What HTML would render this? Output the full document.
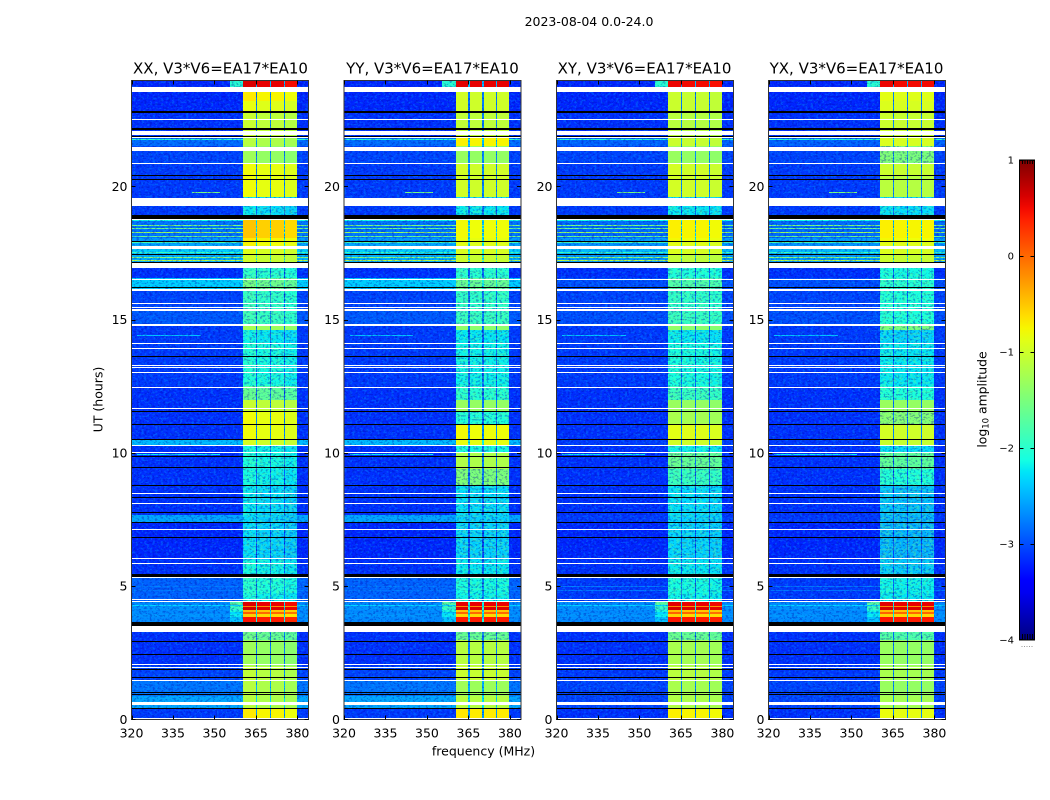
<!DOCTYPE html>
<html lang="en">
<head>
<meta charset="utf-8">
<title>2023-08-04 amplitude waterfall V3*V6=EA17*EA10</title>
<style>
html,body{margin:0;padding:0;background:#fff;width:1050px;height:800px;overflow:hidden}
svg{display:block}
text{font-family:"DejaVu Sans","Liberation Sans",sans-serif;fill:#000}
</style>
</head>
<body>
<svg id="fig" width="1050" height="800" viewBox="0 0 1050 800" xmlns="http://www.w3.org/2000/svg">
  <defs>
    <filter id="speckle-light" x="0" y="0" width="100%" height="100%" color-interpolation-filters="sRGB">
      <feTurbulence type="fractalNoise" baseFrequency="0.36 0.5" numOctaves="2" seed="4"/>
      <feColorMatrix type="matrix" values="0 0 0 0 0  0 0 0 0 0.68  0 0 0 0 1  8 0 0 0 -4.2"/>
    </filter>
    <filter id="speckle-dark" x="0" y="0" width="100%" height="100%" color-interpolation-filters="sRGB">
      <feTurbulence type="fractalNoise" baseFrequency="0.38 0.52" numOctaves="2" seed="11"/>
      <feColorMatrix type="matrix" values="0 0 0 0 0  0 0 0 0 0  0 0 0 0 0.65  0 8 0 0 -4.2"/>
    </filter>
    <filter id="speckle-green" x="0" y="0" width="100%" height="100%" color-interpolation-filters="sRGB">
      <feTurbulence type="fractalNoise" baseFrequency="0.3 0.45" numOctaves="2" seed="23"/>
      <feColorMatrix type="matrix" values="0 0 0 0 0.45  0 0 0 0 1  0 0 0 0 0.5  8 0 0 0 -4"/>
    </filter>
    <linearGradient id="jet-gradient" x1="0" y1="1" x2="0" y2="0"></linearGradient>
  </defs>
  <text x="589" y="26" font-size="12.5" text-anchor="middle">2023-08-04 0.0-24.0</text>
  <text x="220.5" y="73.5" font-size="15" text-anchor="middle">XX, V3*V6=EA17*EA10</text>
  <text x="432.5" y="73.5" font-size="15" text-anchor="middle">YY, V3*V6=EA17*EA10</text>
  <text x="644.5" y="73.5" font-size="15" text-anchor="middle">XY, V3*V6=EA17*EA10</text>
  <text x="856.5" y="73.5" font-size="15" text-anchor="middle">YX, V3*V6=EA17*EA10</text>
  <text x="0" y="0" font-size="12.5" text-anchor="middle" transform="translate(102.5 399.5) rotate(-90)">UT (hours)</text>
  <text x="483.5" y="755.5" font-size="12.5" text-anchor="middle">frequency (MHz)</text>
  <text x="0" y="0" font-size="12.4" text-anchor="middle" transform="translate(986.5 399.5) rotate(-90)">log<tspan font-size="8.5" dy="2">10</tspan><tspan dy="-2"> amplitude</tspan></text>
  <g id="panels"></g>
  <g id="colorbar"></g>
</svg>
<script>
// Time rows (hours): rowEdges[i]..rowEdges[i+1]
const rowEdges = [0,.43,.9,1.5,2,3,3.3,3.65,3.85,3.95,4.05,4.12,4.22,4.27,4.4,4.75,5.3,6,7.36,7.66,8.8,9.4,10,10.3,10.5,11.05,11.55,12,12.5,14.1,14.6,14.8,15.4,16.1,16.55,16.95,17.15,17.47,17.66,17.96,18.07,18.78,19.27,19.6,20.4,20.85,21.5,21.9,22.8,23.2,23.73,24];
// log10 amplitude outside the passband, per row, parallel hands (XX, YY)
const backgroundParallel = [-3.1,-2.55,-2.8,-3.05,-3.15,-3.15,-3.15,-2.7,-2.65,-2.7,-2.7,-2.65,-2.65,-2.7,-2.9,-2.9,-3.15,-3.2,-2.55,-3.15,-3.15,-3.15,-3.15,-2.45,-3.15,-3.15,-3.15,-3.15,-3.1,-3.1,-3.1,-2.95,-3.05,-2.35,-3.15,-3.15,-2.5,-2.35,-2.55,-2.6,-2.8,-3.1,-3.1,-3.1,-3.1,-3.05,-2.85,-3.15,-3.2,-3.2,-3.2];
// log10 amplitude outside the passband, per row, cross hands (XY, YX)
const backgroundCross = [-3.15,-3.05,-3.05,-3.1,-3.15,-3.15,-3.15,-2.7,-2.65,-2.7,-2.7,-2.65,-2.65,-2.7,-3.1,-3.1,-3.15,-3.2,-3.1,-3.15,-3.15,-3.15,-3.15,-3.1,-3.15,-3.15,-3.15,-3.15,-3.1,-3.1,-3.1,-3,-3.05,-3,-3.15,-3.15,-2.6,-2.45,-2.65,-2.6,-2.85,-3.1,-3.1,-3.1,-3.1,-3.05,-2.9,-3.15,-3.2,-3.2,-3.2];
const backgroundByPanel = [backgroundParallel, backgroundParallel, backgroundCross, backgroundCross];
// log10 amplitude of the shoulder where it stands out (row index, level)
const shoulderRows = [7,8,9,10,11,12,13,50];
const shoulderRowLevels = [-2.4,-2.2,-2.3,-2.1,-1.9,-1.9,-1.7,-2];
// log10 amplitude inside the sub-bands, per row and polarisation
const subbandXX = [-.75,-1.2,-1.2,-1.15,-1.35,-1.65,-1.65,.4,-.6,0,-.5,.6,-.2,.55,-2.2,-2.1,-2.2,-2.35,-2.35,-2.3,-2.2,-2.15,-2.2,-1,-.85,-.85,-1.1,-1.7,-2.15,-2.25,-1.3,-1.95,-2,-1.6,-2.05,-2.05,-1.05,-.95,-.8,-.75,-.55,-2.3,-2.3,-.85,-.85,-1.35,-1.2,-1.1,-.9,-.75,.55];
const subbandYY = [-.7,-1.15,-1.3,-1.05,-1.15,-1.65,-1.65,.4,-.6,0,-.5,.6,-.2,.55,-2.2,-2.15,-2.25,-2.35,-2.35,-2.3,-1.5,-1.2,-2.15,-.85,-.8,-2.1,-1.35,-2.05,-2.2,-2.25,-1.4,-1.95,-2,-1.65,-2.05,-2.05,-1.05,-.95,-.9,-.85,-.8,-2.25,-2.3,-1,-1,-1.35,-.75,-1.1,-1,-1,.55];
const subbandXY = [-.75,-1.2,-1.25,-1.15,-1.25,-1.65,-1.65,.4,-.6,0,-.5,.6,-.2,.55,-2.2,-2.15,-2.25,-2.35,-2.35,-2.3,-1.95,-1.65,-2.2,-1,-.9,-1.25,-1.35,-1.95,-2.15,-2.25,-1.4,-1.95,-2,-1.8,-2.1,-2.1,-1.1,-.95,-.9,-.8,-.75,-2.25,-2.3,-1,-1,-1.35,-1.05,-1.15,-1.05,-1.05,.5];
const subbandYX = [-.85,-1.25,-1.35,-1.25,-1.35,-1.8,-1.8,.4,-.6,0,-.5,.6,-.2,.55,-2.25,-2.2,-2.4,-2.5,-2.5,-2.45,-2.1,-1.7,-2.3,-1.05,-1,-1.45,-1.35,-2.1,-2.25,-2.35,-1.5,-2.1,-2.1,-2.05,-2.15,-2.15,-1.05,-.95,-.9,-.8,-.75,-2.3,-2.3,-1.15,-1.05,-1.5,-.95,-1.05,-.95,-.9,.5];
const subbandByPanel = [subbandXX, subbandYY, subbandXY, subbandYX];
// Sub-band trim per polarisation
const subbandTrim = [[.06,0,0,-.06],[.02,0,0,0],[.03,0,0,-.03],[.03,0,0,0]];
// Sub-band edges (MHz)
const subbandEdges = [[360.4,365],[365.5,370],[370.5,375],[375.4,379.8]];
const passband = [360.4,379.8];
const shoulderRange = [355.5,360.4];
// Narrow-band RFI lines across the band: hour and level
const rfiLineHours = [4.3,5.0,4.85,21.77,17.25,17.33,17.55,17.92,18.13,18.27,18.43,18.56,18.73];
const rfiLineLevels = [-2.3,-2.8,-2.8,-2,-1.1,-1.4,-1.9,-1.8,-1.6,-1.3,-1.6,-1.5,-2.1];
// Short RFI bursts: hour, start MHz, end MHz, level
const burstHours = [19.8,14.44,9.95];
const burstStarts = [342,322,322];
const burstEnds = [352,345,352];
const burstLevels = [-1.5,-2.4,-2.2];
// Flagged time ranges (hours)
const whiteFlags = [[.02,.05],[.54,.65],[1.44,1.48],[1.93,1.97],[2.04,2.08],[3.28,3.5],[4.4,4.44],[4.49,4.53],[5.3,5.34],[5.83,5.86],[6.01,6.05],[7.11,7.14],[8.07,8.11],[8.48,8.51],[9.99,10.03],[10.25,10.28],[11.63,11.67],[12.45,12.49],[13.02,13.05],[13.2,13.24],[13.28,13.31],[13.88,13.92],[14.1,14.14],[14.77,14.83],[15.34,15.38],[15.45,15.49],[15.6,15.64],[16.09,16.13],[16.5,16.54],[16.95,17.12],[17.66,17.77],[18.75,18.78],[19.27,19.57],[20.84,20.86],[21.33,21.48],[21.82,21.88],[21.93,22.08],[22.49,22.53],[23.54,23.73]];
const blackFlags = [[.39,.43],[.92,.96],[.99,1.03],[1.55,1.59],[1.85,1.89],[2.42,2.46],[2.9,2.94],[3.52,3.65],[5.34,5.45],[6.8,6.83],[7.36,7.4],[7.74,7.78],[8.3,8.34],[8.75,8.79],[9.46,9.49],[9.83,9.87],[10.47,10.51],[11.03,11.09],[11.52,11.56],[13.58,13.62],[16.2,16.24],[17.12,17.15],[17.43,17.47],[17.93,17.96],[18.78,18.93],[20.24,20.28],[20.37,20.41],[21.86,21.9],[22.13,22.17],[22.76,22.83]];
// Tick labels
const freqTicks = [320,335,350,365,380];
const hourTicks = [0,5,10,15,20];
const colorbarTicks = [-4,-3,-2,-1,0,1];
const colorbarMinorTicks = [1,2,3,4,5];
const polarisations = ['xx','yy','xy','yx'];

const NS = 'http://www.w3.org/2000/svg';
const FREQ_MIN = 320, FREQ_MAX = 384, HOUR_MIN = 0, HOUR_MAX = 24;
const PANEL_W = 177, PANEL_TOP = 80.5, PANEL_BOTTOM = 719.5;
const panelLeft = [131.5,344,556.5,768.5];
const CB_LEFT = 1019.5, CB_RIGHT = 1034.5, CB_TOP = 160, CB_BOTTOM = 640;
const QUIET_LEVEL = -1.4;

function make(tag, attrs, parent){
  const e = document.createElementNS(NS, tag);
  for (const k in attrs) e.setAttribute(k, attrs[k]);
  parent.appendChild(e);
  return e;
}
function freqToX(p, f){ return panelLeft[p] + (f - FREQ_MIN) / (FREQ_MAX - FREQ_MIN) * PANEL_W; }
function hourToY(h){ return PANEL_BOTTOM - (h - HOUR_MIN) / (HOUR_MAX - HOUR_MIN) * (PANEL_BOTTOM - PANEL_TOP) * 1.0013; }
function levelToCb(v){ return CB_BOTTOM - (v + 4) / 5 * (CB_BOTTOM - CB_TOP); }
function clamp(v){ return Math.max(0, Math.min(1, v)); }
function jet(t){
  t = clamp(t);
  const r = t < .35 ? 0 : t < .66 ? (t - .35) / .31 : t < .89 ? 1 : 1 - (t - .89) / .11 * .5;
  const g = t < .125 ? 0 : t < .375 ? (t - .125) / .25 : t < .64 ? 1 : t < .91 ? 1 - (t - .64) / .27 : 0;
  const b = t < .11 ? .5 + t / .11 * .5 : t < .34 ? 1 : t < .65 ? 1 - (t - .34) / .31 : 0;
  return 'rgb(' + Math.round(r * 255) + ',' + Math.round(g * 255) + ',' + Math.round(b * 255) + ')';
}
function levelColor(v){ return jet((v + 4) / 5); }

const panelsRoot = document.getElementById('panels');

polarisations.forEach(function(pol, p){
  const g = make('g', {}, panelsRoot);
  
  
  const clip = make('clipPath', {id: 'clip-' + pol}, g);
  make('rect', {x: panelLeft[p], y: PANEL_TOP, width: PANEL_W, height: PANEL_BOTTOM - PANEL_TOP}, clip);
  const quietClip = make('clipPath', {id: 'quiet-' + pol}, g);
  const heat = make('g', {'clip-path': 'url(#clip-' + pol + ')'}, g);
  
  
  const subLevels = subbandByPanel[p];
  const bgLevels = backgroundByPanel[p];
  const passX = Math.round(freqToX(p, passband[0]));
  const passW = Math.round(freqToX(p, passband[1])) - passX;
  // background, shoulder and inter-sub-band gaps
  for (let i = 0; i < rowEdges.length - 1; i++){
    const y1 = Math.round(hourToY(rowEdges[i + 1])), y2 = Math.round(hourToY(rowEdges[i]));
    const h = y2 - y1;
    const bg = bgLevels[i];
    const bgRect = make('rect', {x: panelLeft[p], y: y1, width: PANEL_W, height: h, fill: levelColor(bg)}, heat);
    
    
    const si = shoulderRows.indexOf(i);
    if (si >= 0){
      const sx = Math.round(freqToX(p, shoulderRange[0]));
      const shRect = make('rect', {x: sx, y: y1, width: Math.round(freqToX(p, shoulderRange[1])) - sx, height: h, fill: levelColor(shoulderRowLevels[si])}, heat);
      
      
    }
    const gapRect = make('rect', {x: passX, y: y1, width: passW, height: h, fill: levelColor(bg + .2 * (subLevels[i] - bg))}, heat);
    
    
    if (subLevels[i] < QUIET_LEVEL){
      make('rect', {x: passX, y: y1, width: passW, height: h}, quietClip);
    }
  }
  rfiLineHours.forEach(function(hr, i){
    const line = make('rect', {x: panelLeft[p], y: Math.round(hourToY(hr)), width: PANEL_W, height: 1, fill: levelColor(rfiLineLevels[i])}, heat);
    
    
  });
  burstHours.forEach(function(hr, i){
    const x1 = Math.round(freqToX(p, burstStarts[i]));
    const burst = make('rect', {x: x1, y: Math.round(hourToY(hr)), width: Math.round(freqToX(p, burstEnds[i])) - x1, height: 1, fill: levelColor(burstLevels[i])}, heat);
    
    
  });
  const noiseA = make('rect', {x: panelLeft[p], y: PANEL_TOP, width: PANEL_W, height: PANEL_BOTTOM - PANEL_TOP, filter: 'url(#speckle-light)', opacity: .3}, heat);
  
  
  const noiseB = make('rect', {x: panelLeft[p], y: PANEL_TOP, width: PANEL_W, height: PANEL_BOTTOM - PANEL_TOP, filter: 'url(#speckle-dark)', opacity: .3}, heat);
  
  
  // sub-bands drawn above the speckle; bright rows stay smooth
  for (let i = 0; i < rowEdges.length - 1; i++){
    const y1 = Math.round(hourToY(rowEdges[i + 1])), y2 = Math.round(hourToY(rowEdges[i]));
    const h = y2 - y1;
    subbandEdges.forEach(function(edge, s){
      const x1 = Math.round(freqToX(p, edge[0])), x2 = Math.round(freqToX(p, edge[1]));
      const cell = make('rect', {x: x1, y: y1, width: x2 - x1, height: h, fill: levelColor(subLevels[i] + subbandTrim[p][s])}, heat);
      
      
    });
  }
  const quietGroup = make('g', {'clip-path': 'url(#quiet-' + pol + ')'}, heat);
  
  
  const noiseC = make('rect', {x: passX, y: PANEL_TOP, width: passW, height: PANEL_BOTTOM - PANEL_TOP, filter: 'url(#speckle-dark)', opacity: .35}, quietGroup);
  
  
  const noiseD = make('rect', {x: passX, y: PANEL_TOP, width: passW, height: PANEL_BOTTOM - PANEL_TOP, filter: 'url(#speckle-green)', opacity: .3}, quietGroup);
  
  
  whiteFlags.forEach(function(f){
    const yT = Math.round(hourToY(f[1]));
    const r = make('rect', {x: panelLeft[p], y: yT, width: PANEL_W, height: Math.max(1, Math.round(hourToY(f[0])) - yT), fill: '#fff'}, heat);
    
    
  });
  blackFlags.forEach(function(f){
    const yT = Math.round(hourToY(f[1]));
    const r = make('rect', {x: panelLeft[p], y: yT, width: PANEL_W, height: Math.max(1, Math.round(hourToY(f[0])) - yT), fill: '#000'}, heat);
    
    
  });
  const frame = make('rect', {x: panelLeft[p], y: PANEL_TOP, width: PANEL_W, height: PANEL_BOTTOM - PANEL_TOP, fill: 'none', stroke: '#333', 'stroke-width': 1}, g);
  
  
  freqTicks.forEach(function(f){
    const x = Math.round(freqToX(p, f)) + .5;
    const t1 = make('line', {x1: x, x2: x, y1: PANEL_BOTTOM, y2: PANEL_BOTTOM - 4, stroke: '#000'}, g);
    
    
    const t2 = make('line', {x1: x, x2: x, y1: PANEL_TOP, y2: PANEL_TOP + 4, stroke: '#000'}, g);
    
    
    const lab = make('text', {x: freqToX(p, f), y: 737.5, 'font-size': 12.5, 'text-anchor': 'middle'}, g);
    lab.textContent = String(f);
    
    
  });
  hourTicks.forEach(function(v){
    const y = Math.round(hourToY(v)) + .5 - (v === 0 ? 1 : 0);
    const t1 = make('line', {x1: panelLeft[p], x2: panelLeft[p] + 4, y1: y, y2: y, stroke: '#000'}, g);
    
    
    const t2 = make('line', {x1: panelLeft[p] + PANEL_W, x2: panelLeft[p] + PANEL_W - 4, y1: y, y2: y, stroke: '#000'}, g);
    
    
    const lab = make('text', {x: panelLeft[p] - 4, y: hourToY(v) + 4.5, 'font-size': 12.5, 'text-anchor': 'end'}, g);
    lab.textContent = String(v);
    
    
  });
});

// Colorbar
const grad = document.getElementById('jet-gradient');
for (let i = 0; i <= 40; i++){
  make('stop', {offset: (i / 40 * 100) + '%', 'stop-color': jet(i / 40)}, grad);
}
const cb = document.getElementById('colorbar');
const cbRect = make('rect', {x: CB_LEFT, y: CB_TOP, width: CB_RIGHT - CB_LEFT, height: CB_BOTTOM - CB_TOP, fill: 'url(#jet-gradient)', stroke: '#000', 'stroke-width': 1}, cb);


colorbarTicks.forEach(function(v){
  const y = Math.round(levelToCb(v)) + (v === -4 ? -.5 : .5);
  const t1 = make('line', {x1: CB_LEFT, x2: CB_LEFT + 4, y1: y, y2: y, stroke: '#000'}, cb);
  
  
  const t2 = make('line', {x1: CB_RIGHT, x2: CB_RIGHT - 4, y1: y, y2: y, stroke: '#000'}, cb);
  
  
  const lab = make('text', {x: 1014, y: levelToCb(v) + 3.5, 'font-size': 10, 'text-anchor': 'end'}, cb);
  lab.textContent = v < 0 ? '\u2212' + Math.abs(v) : String(v);
  
  
});
colorbarMinorTicks.forEach(function(n){
  const x = CB_LEFT + n * 2.5 + .5;
  const t1 = make('line', {x1: x, x2: x, y1: CB_TOP, y2: CB_TOP + 4, stroke: '#000'}, cb);
  
  
  const t2 = make('line', {x1: x, x2: x, y1: CB_BOTTOM, y2: CB_BOTTOM - 6, stroke: '#000'}, cb);
  
  
  const d = make('rect', {x: x - 1, y: 646, width: 1, height: 1, fill: '#999'}, cb);
  
  
});
</script>
</body>
</html>
